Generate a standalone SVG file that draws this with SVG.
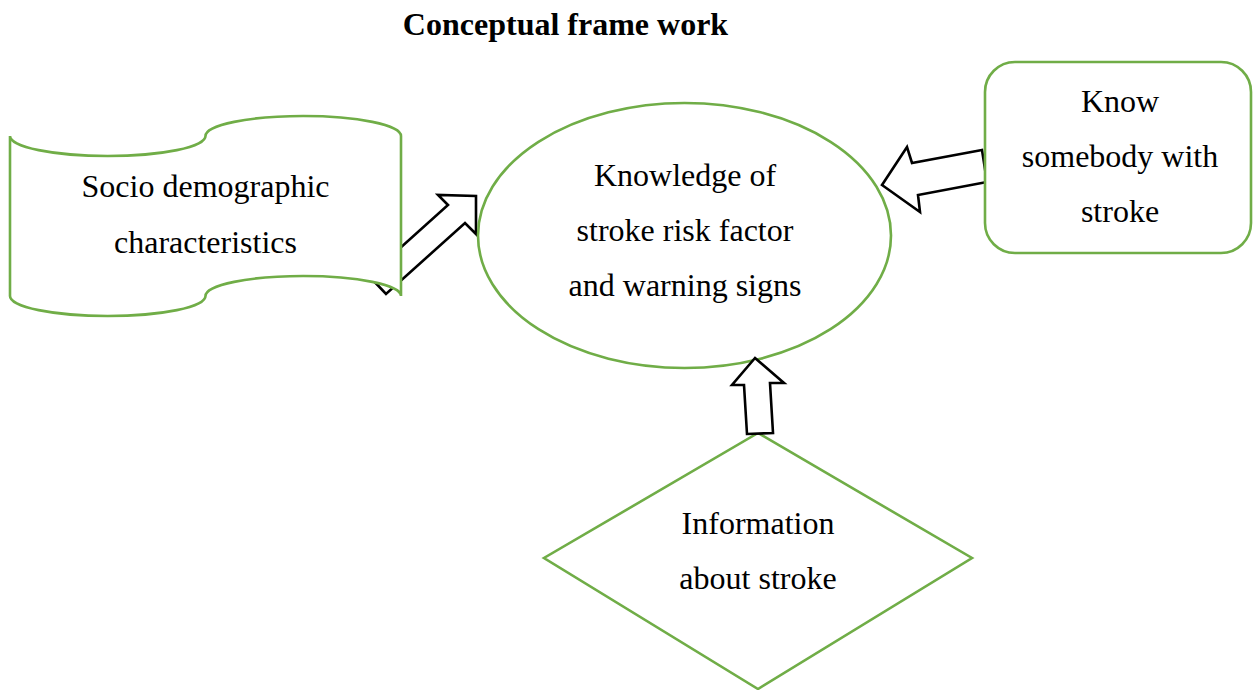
<svg xmlns="http://www.w3.org/2000/svg" width="1254" height="690" viewBox="0 0 1254 690">
<style>
.shape{fill:#fff;stroke:#70AD47;stroke-width:2.6}
.arrow{fill:#fff;stroke:#000;stroke-width:2.6;stroke-linejoin:miter}
text{font-family:"Liberation Serif","Times New Roman",serif;font-size:32px;fill:#000;text-anchor:middle}
.title{font-weight:bold}
</style>
<rect width="1254" height="690" fill="#fff"/>
<text class="title" x="565.5" y="35">Conceptual frame work</text>
<g id="connectors">
<polygon class="arrow" points="476,196 476,234 465,223 386,294 369,276 448,205 438,195"/>
<polygon class="arrow" points="882,185 907,147 912,163 982,150 987,182 918,195 920,212"/>
</g>
<g id="node-socio">
<path class="shape" d="M10,136 A97.75,20 0 0 0 205.5,136 A97.75,20 0 0 1 401,136 L401,296 A97.75,20 0 0 0 205.5,296 A97.75,20 0 0 1 10,296 Z"/>
<text x="205.5" y="197">Socio demographic</text>
<text x="205.5" y="253">characteristics</text>
</g>
<g id="node-knowledge">
<ellipse class="shape" cx="684.5" cy="235.5" rx="206.5" ry="132.5"/>
<text x="685" y="186">Knowledge of</text>
<text x="685" y="241">stroke risk factor</text>
<text x="685" y="296">and warning signs</text>
</g>
<g id="node-know">
<rect class="shape" x="985" y="62" width="266" height="191" rx="30" ry="30"/>
<text x="1120" y="112">Know</text>
<text x="1120" y="167">somebody with</text>
<text x="1120" y="222">stroke</text>
</g>
<g id="node-info">
<polygon class="shape" points="758,433 972,558 758,689 544,558"/>
<text x="758" y="534">Information</text>
<text x="758" y="589">about stroke</text>
</g>
<g id="connectors-up">
<polygon class="arrow" points="755,358 784,383 770,383 773,433 747,434 744,385 732,385"/>
</g>
</svg>
